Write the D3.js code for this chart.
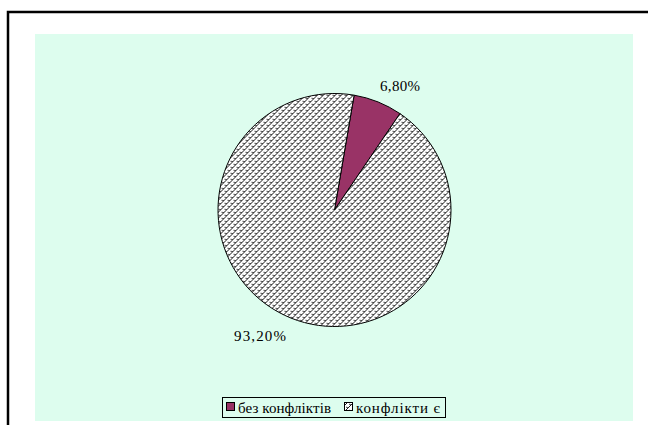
<!DOCTYPE html>
<html><head><meta charset="utf-8">
<script src="https://cdn.jsdelivr.net/npm/d3@7"></script>
<style>body{margin:0;background:#fff}svg{display:block}
text{font-family:"Liberation Serif","Times New Roman",serif;font-size:15px;fill:#000}</style>
</head><body>
<svg id="c" width="648" height="425"></svg>
<script>
const categories = ["без конфліктів", "конфлікти є"];
const values = [6.8, 93.2];
const labels = ["6,80%", "93,20%"];

const svg = d3.select("#c");
svg.append("path").attr("d","M8,425 L8,12 L648,12").attr("fill","none").attr("stroke","#000").attr("stroke-width",2.5);
svg.append("rect").attr("x",35).attr("y",34).attr("width",598).attr("height",387).attr("fill","#ddfdee");

const defs = svg.append("defs");
const pat = defs.append("pattern").attr("id","hatch").attr("patternUnits","userSpaceOnUse").attr("width",6).attr("height",6);
pat.append("rect").attr("width",6).attr("height",6).attr("fill","#fff");
pat.append("path").attr("d","M0,6 L6,0 M-1,1 L1,-1 M5,7 L7,5").attr("stroke","#000").attr("stroke-width",0.9);
pat.append("path").attr("d","M1,2 L3,3 M4,5 L6,6").attr("stroke","#000").attr("stroke-width",0.8);

const fills = ["#993366", "url(#hatch)"];
const cx = 334.5, cy = 210, r = 116.5;
const start = 9.7 * Math.PI / 180;
const pie = d3.pie().sort(null).startAngle(start).endAngle(start + 2*Math.PI)(values);
const arc = d3.arc().innerRadius(0).outerRadius(r);
const g = svg.append("g").attr("transform",`translate(${cx},${cy})`);
g.selectAll("path").data(pie).join("path").attr("d",arc).attr("fill",(d,i)=>fills[i]).attr("stroke","#000").attr("stroke-width",1);

const lblPos = [[380, 91, 40], [234, 341, 52]];
svg.selectAll("text.lbl").data(labels).join("text").attr("class","lbl")
  .attr("x",(d,i)=>lblPos[i][0]).attr("y",(d,i)=>lblPos[i][1])
  .attr("textLength",(d,i)=>lblPos[i][2]).attr("lengthAdjust","spacing").text(d=>d);

const lg = svg.append("g");
lg.append("rect").attr("x",222.5).attr("y",397.5).attr("width",223).attr("height",20).attr("fill","#ddfdee").attr("stroke","#000").attr("stroke-width",1);
const items = [{x:226, tx:238, w:93}, {x:344, tx:356, w:84}];
categories.forEach((c,i)=>{
  lg.append("rect").attr("x",items[i].x+0.5).attr("y",402.5).attr("width",8).attr("height",8).attr("fill",fills[i]).attr("stroke","#000").attr("stroke-width",1);
  lg.append("text").attr("x",items[i].tx).attr("y",412.5).attr("textLength",items[i].w).attr("lengthAdjust","spacing").text(c);
});
</script>
</body></html>
